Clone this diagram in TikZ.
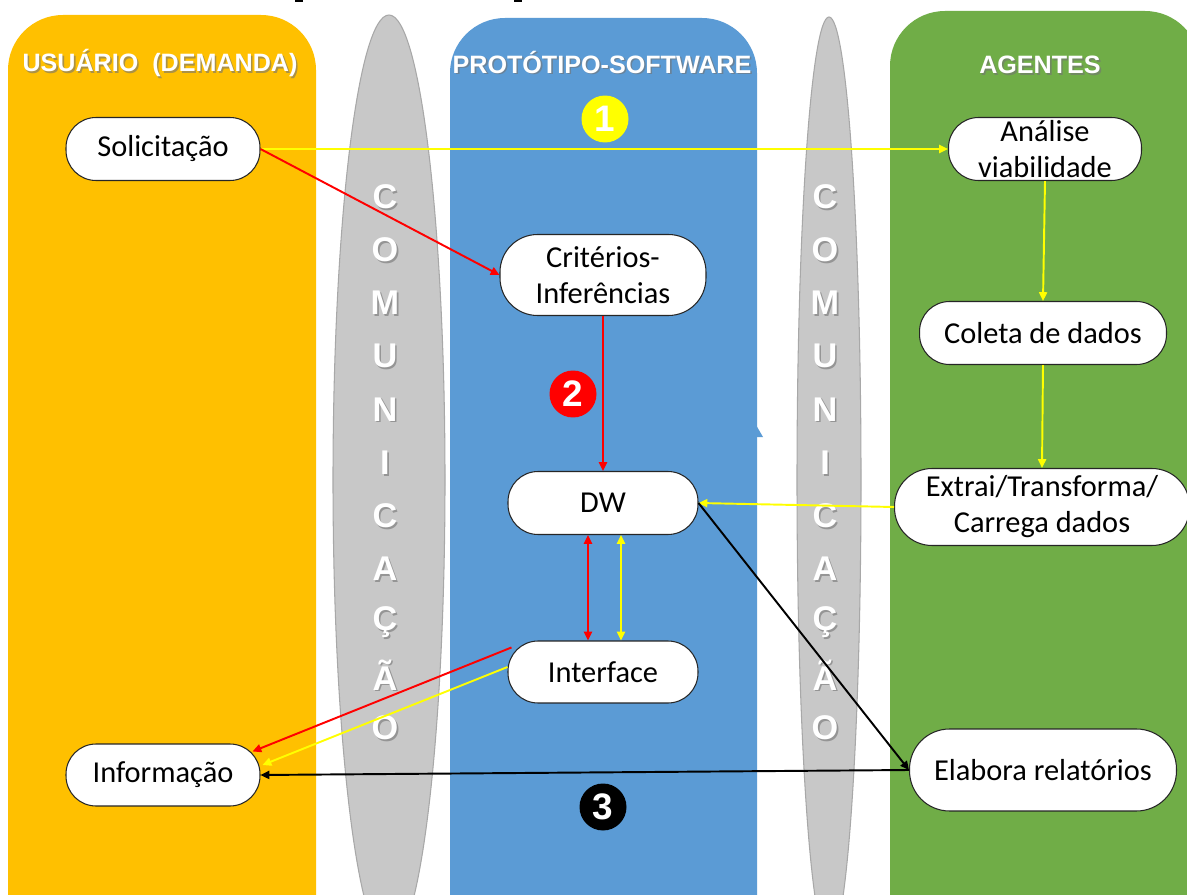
\documentclass[tikz,border=0pt]{standalone}
\usepackage{fontspec}
\setmainfont{Carlito}
\newfontfamily\headfont{Liberation Sans}
\usetikzlibrary{arrows.meta,calc}

\definecolor{colUser}{HTML}{FFC000}
\definecolor{colSoft}{HTML}{5B9BD5}
\definecolor{colAgent}{HTML}{70AD47}
\definecolor{colComm}{HTML}{C8C8C8}
\definecolor{colCommEdge}{HTML}{A8A8A8}
\definecolor{flowYellow}{HTML}{FFFF00}
\definecolor{flowRed}{HTML}{FF0000}

% text with a soft drop shadow: name, position, style, text
\newcommand{\shadowlabel}[4]{%
  \node[#3, text=black!55, opacity=0.6] (#1-sh) at ($#2+(1.6,1.8)$) {#4};
  \node[#3] (#1) at #2 {#4};
}

\begin{document}
\begin{tikzpicture}[x=0.02cm,y=-0.02cm,
  box/.style={draw=black!85, line width=0.6pt, fill=white, rounded corners=0.6cm,
    minimum height=1.26cm, align=center, inner sep=2pt,
    font=\fontsize{17.3}{20.5}\selectfont},
  head/.style={font=\headfont\bfseries\fontsize{14.3}{16}\selectfont, text=white, inner sep=0pt},
  vletter/.style={font=\headfont\bfseries\fontsize{19.5}{20}\selectfont, text=white, inner sep=0pt},
  badge/.style={circle, inner sep=0pt, minimum width=0.88cm, minimum height=0.94cm,
    font=\headfont\bfseries\fontsize{21}{22}\selectfont, text=white},
  tip/.style={-{Triangle[length=5pt,width=4.6pt]}},
  tips/.style={{Triangle[length=5pt,width=4.6pt]}-{Triangle[length=5pt,width=4.6pt]}},
  ylw/.style={draw=flowYellow, line width=1.1pt},
  rd/.style={draw=flowRed, line width=1.1pt},
  blk/.style={draw=black, line width=1.1pt},
]
\useasboundingbox (0,0) rectangle (1187,895);
\clip (0,0) rectangle (1187,895);
\fill[white] (0,0) rectangle (1187,895);

% descenders of a heading above the frame
\fill[black] (295,0) rectangle (303,2);
\fill[black] (514,0) rectangle (522,2);

% three swimlanes with rounded tops
\fill[colUser, rounded corners=1.1cm] (8,960) -- (8,15) -- (316,15) -- (316,960) -- cycle;
\fill[colSoft, rounded corners=1.1cm] (450,960) -- (450,18) -- (757,18) -- (757,960) -- cycle;
\fill[colAgent, rounded corners=1.1cm] (890,960) -- (890,11) -- (1200,11) -- (1200,960) -- cycle;
\fill[colSoft] (756,425) -- (763,437) -- (756,437) -- cycle;

% communication channels
\draw[colCommEdge, fill=colComm, line width=0.6pt] (389,480) ellipse [x radius=56, y radius=465];
\draw[colCommEdge, fill=colComm, line width=0.6pt] (829,480) ellipse [x radius=32, y radius=463];

\foreach \ch [count=\i] in {C,O,M,U,N,I,C,A,Ç,Ã,O} {
  \pgfmathsetmacro{\ly}{197+53.1*(\i-1)}
  \shadowlabel{comL-\i}{(385,\ly)}{vletter}{\ch}
  \shadowlabel{comR-\i}{(825,\ly)}{vletter}{\ch}
}

% lane headings
\shadowlabel{hUser}{(160,63)}{head}{USUÁRIO\ \ (DEMANDA)}
\shadowlabel{hSoft}{(602,62)}{head}{PROTÓTIPO-SOFTWARE}
\shadowlabel{hAgent}{(1040,65)}{head}{AGENTES}

% step badges
\node[badge, fill=flowYellow] (b1) at (605,119) {1};
\node[badge, fill=flowRed] (b2) at (573,394) {2};
\node[badge, fill=black] (b3) at (603,807) {3};

% boxes
\node[box, minimum width=3.88cm] (sol) at (163,149) {Solicitação};
\node[box, minimum width=3.88cm, minimum height=1.24cm] (inf) at (163,775) {Informação};
\node[box, minimum width=4.12cm, minimum height=1.62cm, rounded corners=0.75cm] (crit) at (603,275) {Critérios-\\Inferências};
\node[box, minimum width=3.8cm] (dw) at (603,503) {DW};
\node[box, minimum width=3.8cm, minimum height=1.24cm] (int) at (603,672) {Interface};
\node[box, minimum width=3.86cm, inner ysep=0pt] (ana) at (1045,149) {Análise\\viabilidade};
\node[box, minimum width=4.94cm] (col) at (1043,333) {Coleta de dados};
\node[box, minimum width=5.9cm, minimum height=1.54cm, rounded corners=0.75cm] (etl) at (1042,507) {Extrai/Transforma/\\Carrega dados};
\node[box, minimum width=5.34cm, minimum height=1.64cm, rounded corners=0.8cm] (elab) at (1043,770) {Elabora relatórios};

% yellow flow
\draw[ylw, tip] (sol.east) -- (ana.west);
\draw[ylw, tip] (ana.south) -- (col.north);
\draw[ylw, tip] (col.south) -- (etl.north);
\draw[ylw, tip] (etl.west) -- (dw.east);
\draw[ylw, tips] ($(dw.south)+(18,0)$) -- ($(int.north)+(18,0)$);
\draw[ylw, tip] ($(int.west)+(0,-5)$) -- ($(inf.east)+(2,-10)$);

% red flow
\draw[rd, tip] (sol.east) -- (crit.west);
\draw[rd, tip] (crit.south) -- (dw.north);
\draw[rd, tips] ($(dw.south)+(-15,0)$) -- ($(int.north)+(-15,0)$);
\draw[rd, tip] ($(int.north west)+(4,7)$) -- ($(inf.north east)+(-8,8)$);

% black flow
\draw[blk, tip] (dw.east) -- (elab.west);
\draw[blk, tip] (elab.west) -- (inf.east);
\end{tikzpicture}
\end{document}
